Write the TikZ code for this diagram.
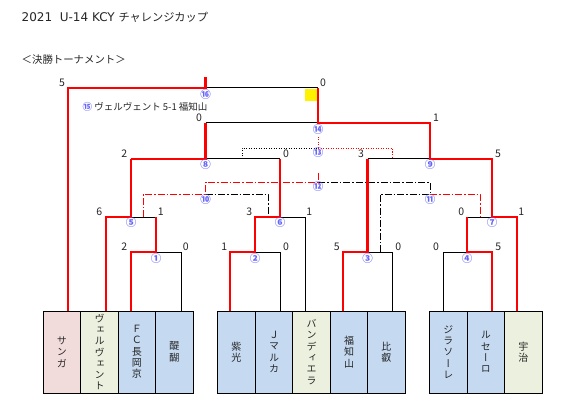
\documentclass[tikz,border=0pt]{standalone}
\usepackage{fontspec}
\setmainfont{Noto Sans CJK JP}
\newfontfamily\jp{Noto Sans CJK JP}
\newfontfamily\dv{DejaVu Sans}
\newfontfamily\jpv[RawFeature=+vert]{Noto Sans CJK JP}
\definecolor{rd}{RGB}{255,0,0}
\definecolor{pinkbox}{HTML}{F2DCDB}
\definecolor{greenbox}{HTML}{EBF1DE}
\definecolor{bluebox}{HTML}{C5D9F1}
\definecolor{numblue}{RGB}{100,100,250}
\definecolor{txt}{HTML}{262626}
\tikzset{
  win/.style={draw=rd, line width=2.6pt, line join=miter},
  lose/.style={draw=black, line width=1pt},
  ddash/.style={dash pattern=on 7pt off 2pt on 1.5pt off 2pt, line width=0.9pt},
  dots/.style={dash pattern=on 1pt off 1.5pt, line width=0.9pt},
  team/.style={draw=black, line width=0.9pt, minimum height=82pt, inner sep=0pt,
    align=center, font=\jpv\fontsize{10}{11.3}\selectfont, text=txt},
  sc/.style={font=\jp\fontsize{10.5}{10.5}\selectfont, text=txt, inner sep=0pt},
  mn/.style={font=\jp\bfseries\fontsize{10.5}{10.5}\selectfont, text=numblue, inner sep=0pt},
  lbl/.style={font=\jp, text=txt, inner sep=0pt, anchor=west}
}
\begin{document}
\begin{tikzpicture}[x=1pt,y=-1pt]
\useasboundingbox[fill=white] (0,0) rectangle (580,414);

% titles
\node[lbl] (title) at (21.5,17) {{\dv\fontsize{12}{12}\selectfont 2021\ \ U-14 KCY }{\fontsize{11.2}{11.2}\selectfont チャレンジカップ}};
\node[lbl, font=\jp\fontsize{10.4}{10.4}\selectfont] (sub) at (21.5,60) {＜決勝トーナメント＞};

% team boxes
\node[team, fill=pinkbox, minimum width=37.7pt] (sanga) at (61.85,352) {サ\\ン\\ガ};
\node[team, fill=greenbox, minimum width=37.6pt] (verv) at (99.5,352) {ヴ\\ェ\\ル\\ヴ\\ェ\\ン\\ト};
\node[team, fill=bluebox, minimum width=37pt] (fc) at (136.8,352) {Ｆ\\Ｃ\\長\\岡\\京};
\node[team, fill=bluebox, minimum width=38pt] (dai) at (174.3,352) {醍\\醐};
\node[team, fill=bluebox, minimum width=38pt] (shi) at (236.3,352) {紫\\光};
\node[team, fill=bluebox, minimum width=37.4pt] (jm) at (274,352) {Ｊ\\マ\\ル\\カ};
\node[team, fill=greenbox, minimum width=38pt] (ban) at (311.7,352) {バ\\ン\\デ\\ィ\\エ\\ラ};
\node[team, fill=bluebox, minimum width=36.6pt] (fuk) at (349,352) {福\\知\\山};
\node[team, fill=bluebox, minimum width=38pt] (hie) at (386.3,352) {比\\叡};
\node[team, fill=bluebox, minimum width=38pt] (gir) at (448.3,352) {ジ\\ラ\\ソ\\ー\\レ};
\node[team, fill=bluebox, minimum width=37pt] (rus) at (485.8,352) {ル\\セ\\ー\\ロ};
\node[team, fill=greenbox, minimum width=38pt] (uji) at (523.3,352) {宇\\治};

% leaf tops
\coordinate (sangaT) at (68,311);
\coordinate (vervT) at (106,311);
\coordinate (fcT) at (131,311);
\coordinate (daiT) at (181,311);
\coordinate (shiT) at (230,311);
\coordinate (jmT) at (280,311);
\coordinate (banT) at (305,311);
\coordinate (fukT) at (343,311);
\coordinate (hieT) at (392,311);
\coordinate (girT) at (443,311);
\coordinate (rusT) at (492,311);
\coordinate (ujiT) at (517,311);

% match junctions
\coordinate (m1) at (156,252);
\coordinate (m2) at (255,252);
\coordinate (m3) at (367.5,252);
\coordinate (m4) at (467,252);
\coordinate (m5) at (131,217);
\coordinate (m6) at (280,217);
\coordinate (m7) at (492,217);
\coordinate (m8) at (205.5,159);
\coordinate (m9) at (430,159);
\coordinate (m14) at (318,123);
\coordinate (m16) at (205.5,88);
\coordinate (champ) at (205.5,77);

% consolation
\coordinate (c10L) at (143,217);
\coordinate (c10R) at (268,217);
\coordinate (c10) at (205.5,194);
\coordinate (c11L) at (380,252);
\coordinate (c11R) at (480,217);
\coordinate (c11) at (430,194);
\coordinate (c12) at (318,182);
\coordinate (c12top) at (318,172);
\coordinate (c13L) at (242,159);
\coordinate (c13R) at (392,159);
\coordinate (c13) at (318,148);
\coordinate (c13top) at (318,137);

% yellow mark
\node[fill=yellow, minimum size=12pt, inner sep=0pt] (ybox) at (311,95.2) {};

% losing lines
\draw[lose] (m1) -| (daiT);
\draw[lose] (m5) -- (m1 |- m5);
\draw[lose] (m2) -| (jmT);
\draw[lose] (m6) -| (banT);
\draw[lose] (m3) -| (hieT);
\draw[lose] (girT) |- (m4);
\draw[lose] (m4 |- m7) -- (m7);
\draw[lose] (m8) -- (m6 |- m8);
\draw[lose] (m3 |- m9) -- (m9);
\draw[lose] (m8 |- m14) -- (m14);
\draw[lose] (m16) -- (m14 |- m16);

% consolation lines
\draw[black, ddash] (c10) -| (c10R);
\draw[black, ddash] (c11L) |- (c11) |- (c12);
\draw[rd, ddash] (c10L) |- (c10) |- (c12) -- (c12top);
\draw[rd, ddash] (c11) -| (c11R);
\draw[black, dots] (c13L) |- (c13);
\draw[rd, dots] (c13) -| (c13R);
\draw[rd, dots] (c13) -- (c13top);

% winning lines
\draw[win] (fcT) |- (m1) -- (m1 |- m5);
\draw[win] (vervT) |- (m5) -- (m5 |- m8);
\draw[win] (shiT) |- (m2) -- (m2 |- m6) -- (m6) -- (m6 |- m8);
\draw[win] (fukT) |- (m3) -- (m3 |- m9);
\draw[win] (rusT) |- (m4) -- (m4 |- m7);
\draw[win] (ujiT) |- (m7) -- (m7 |- m9) -- (m9) -- (m9 |- m14) -- (m14) -- (m14 |- m16);
\draw[win] (m5 |- m8) -- (m8) -- (m8 |- m14);
\draw[win] (sangaT) |- (m16) -- (champ);

% match numbers
\node[mn] (n16) at (205.5,94.3) {⑯};
\node[mn] (n14) at (318,129.3) {⑭};
\node[mn] (n13) at (318,152.7) {⑬};
\node[mn] (n12) at (318,186.7) {⑫};
\node[mn] (n8) at (205.5,164.3) {⑧};
\node[mn] (n9) at (430,164.3) {⑨};
\node[mn] (n10) at (205.5,199.3) {⑩};
\node[mn] (n11) at (430,199.3) {⑪};
\node[mn] (n5) at (131,222.3) {⑤};
\node[mn] (n6) at (280,223) {⑥};
\node[mn] (n7) at (492,223) {⑦};
\node[mn] (n1) at (156,258.3) {①};
\node[mn] (n2) at (255,258.3) {②};
\node[mn] (n3) at (367.5,258.3) {③};
\node[mn] (n4) at (467,258.3) {④};

% scores
\node[sc] (s16a) at (62,83) {5};
\node[sc] (s16b) at (323,83) {0};
\node[sc] (s14a) at (199,117.3) {0};
\node[sc] (s14b) at (436,117.3) {1};
\node[sc] (s8a) at (124.3,154) {2};
\node[sc] (s8b) at (286,154) {0};
\node[sc] (s9a) at (361,154) {3};
\node[sc] (s9b) at (498,154) {5};
\node[sc] (s5a) at (99.3,211.7) {6};
\node[sc] (s5b) at (160.7,211.7) {1};
\node[sc] (s6a) at (249.3,211.7) {3};
\node[sc] (s6b) at (309.3,211.7) {1};
\node[sc] (s7a) at (461.3,211.7) {0};
\node[sc] (s7b) at (521.3,211.7) {1};
\node[sc] (s1a) at (124.3,246.7) {2};
\node[sc] (s1b) at (185.7,246.7) {0};
\node[sc] (s2a) at (224.3,246.7) {1};
\node[sc] (s2b) at (286,246.7) {0};
\node[sc] (s3a) at (336.7,246.7) {5};
\node[sc] (s3b) at (398.3,246.7) {0};
\node[sc] (s4a) at (436,246.7) {0};
\node[sc] (s4b) at (498.3,246.7) {5};

% third place result
\node[lbl, font=\jp\fontsize{9.5}{9.5}\selectfont] (res) at (82.5,106.7) {{\color{numblue}\bfseries ⑮} ヴェルヴェント 5-1 福知山};
\end{tikzpicture}
\end{document}
